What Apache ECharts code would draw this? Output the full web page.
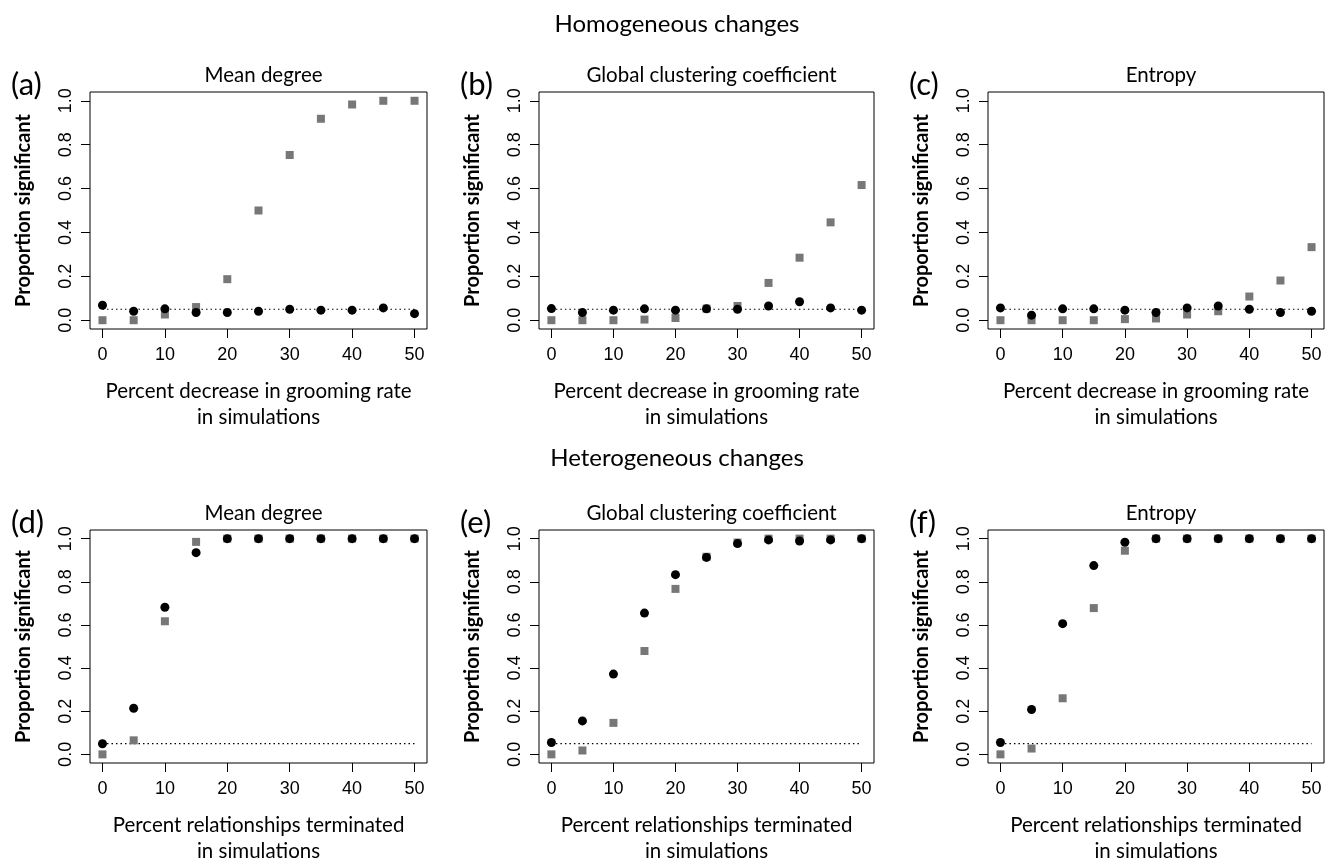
<!DOCTYPE html>
<html lang="en">
<head>
<meta charset="UTF-8">
<title>Proportion significant</title>
<style>
  html, body { margin: 0; padding: 0; background: #fff; }
  #chart { width: 1333px; height: 865px; }
</style>
</head>
<body>
<div id="chart"></div>
<script src="https://cdn.jsdelivr.net/npm/echarts@6/dist/echarts.min.js"></script>
<script>
// x positions (percent) shared by all panels
var xVals = [0, 5, 10, 15, 20, 25, 30, 35, 40, 45, 50];
var xTicks = [0, 10, 20, 30, 40, 50];
var yTicks = [0, 0.2, 0.4, 0.6, 0.8, 1.0];
var threshold = 0.05;

// homogeneous changes
var aSquares = [0.0, 0.0, 0.026, 0.06, 0.187, 0.50, 0.753, 0.918, 0.983, 1.0, 1.0];
var aCircles = [0.068, 0.041, 0.052, 0.035, 0.035, 0.041, 0.05, 0.046, 0.046, 0.056, 0.03];
var bSquares = [0.0, 0.0, 0.0, 0.003, 0.01, 0.053, 0.065, 0.17, 0.285, 0.446, 0.616];
var bCircles = [0.053, 0.035, 0.046, 0.052, 0.046, 0.052, 0.05, 0.065, 0.084, 0.056, 0.046];
var cSquares = [0.0, 0.0, 0.0, 0.0, 0.005, 0.008, 0.026, 0.041, 0.108, 0.181, 0.333];
var cCircles = [0.056, 0.023, 0.052, 0.052, 0.046, 0.035, 0.056, 0.065, 0.05, 0.035, 0.041];

// heterogeneous changes
var dSquares = [0.0, 0.065, 0.617, 0.985, 1.0, 1.0, 1.0, 1.0, 1.0, 1.0, 1.0];
var dCircles = [0.049, 0.214, 0.682, 0.935, 1.0, 1.0, 1.0, 1.0, 1.0, 1.0, 1.0];
var eSquares = [0.0, 0.018, 0.146, 0.479, 0.767, 0.916, 0.982, 1.0, 1.0, 1.0, 1.0];
var eCircles = [0.055, 0.155, 0.372, 0.655, 0.833, 0.913, 0.977, 0.994, 0.989, 0.994, 1.0];
var fSquares = [0.0, 0.027, 0.26, 0.678, 0.944, 1.0, 1.0, 1.0, 1.0, 1.0, 1.0];
var fCircles = [0.055, 0.208, 0.606, 0.875, 0.983, 1.0, 1.0, 1.0, 1.0, 1.0, 1.0];

var panelTitles = ['Mean degree', 'Global clustering coefficient', 'Entropy',
                   'Mean degree', 'Global clustering coefficient', 'Entropy'];
var panelLetters = ['(a)', '(b)', '(c)', '(d)', '(e)', '(f)'];
var xNames = ['Percent decrease in grooming rate\nin simulations',
              'Percent relationships terminated\nin simulations'];
var squares = [aSquares, bSquares, cSquares, dSquares, eSquares, fSquares];
var circles = [aCircles, bCircles, cCircles, dCircles, eCircles, fCircles];

var TXT = 'Lato, "Open Sans", sans-serif';
var NUM = '"Liberation Sans", Arial, sans-serif';

// plot box positions
var cols = [{ left: 90, width: 337 }, { left: 539, width: 335 }, { left: 988, width: 336 }];
var rows = [{ top: 92, height: 237 }, { top: 530, height: 238 }];

function pairs(vals) {
  return xVals.map(function (x, i) { return [x, vals[i]]; });
}

var grids = [], xAxes = [], yAxes = [], series = [], titles = [];

titles.push({ text: 'Homogeneous changes', left: 672, top: 7, textAlign: 'center',
  textStyle: { fontFamily: TXT, fontSize: 24, fontWeight: 'normal', color: '#000' } });
titles.push({ text: 'Heterogeneous changes', left: 672, top: 441, textAlign: 'center',
  textStyle: { fontFamily: TXT, fontSize: 24, fontWeight: 'normal', color: '#000' } });

for (var p = 0; p < 6; p++) {
  var c = cols[p % 3], r = rows[Math.floor(p / 3)];
  grids.push({ left: c.left, top: r.top, width: c.width, height: r.height,
    show: true, borderColor: '#000', borderWidth: 1, backgroundColor: 'transparent' });

  titles.push({ text: panelTitles[p], left: c.left + c.width / 2, top: r.top - 32, textAlign: 'center',
    textStyle: { fontFamily: TXT, fontSize: 20.5, fontWeight: 'normal', color: '#000' } });
  titles.push({ text: panelLetters[p], left: c.left - 84, top: r.top - 28,
    textStyle: { fontFamily: TXT, fontSize: 31, fontWeight: 'normal', color: '#000' } });

  xAxes.push({
    gridIndex: p, type: 'value', min: -2, max: 52,
    name: xNames[Math.floor(p / 3)], nameLocation: 'middle', nameGap: 49,
    nameTextStyle: { fontFamily: TXT, fontSize: 20.5, color: '#000', lineHeight: 26 },
    axisLine: { show: false, onZero: false },
    axisTick: { show: true, length: 9, customValues: xTicks, lineStyle: { color: '#000' } },
    axisLabel: { customValues: xTicks, margin: 17, fontFamily: NUM, fontSize: 18, color: '#000' },
    splitLine: { show: false }
  });
  yAxes.push({
    gridIndex: p, type: 'value', min: -0.04, max: 1.04,
    name: 'Proportion significant', nameLocation: 'middle', nameGap: 56,
    nameTextStyle: { fontFamily: TXT, fontSize: 20, fontWeight: 'bold', color: '#000' },
    axisLine: { show: false, onZero: false },
    axisTick: { show: true, length: 9, customValues: yTicks, lineStyle: { color: '#000' } },
    axisLabel: { customValues: yTicks, rotate: 90, margin: 15, fontFamily: NUM, fontSize: 18, color: '#000',
      formatter: function (v) { return v.toFixed(1); } },
    splitLine: { show: false }
  });

  series.push({
    type: 'line', xAxisIndex: p, yAxisIndex: p, symbol: 'none', silent: true,
    data: [[xTicks[0], threshold], [xTicks[xTicks.length - 1], threshold]],
    lineStyle: { color: '#000', width: 1.2, type: [1.5, 3] }, z: 1
  });
  series.push({
    type: 'scatter', xAxisIndex: p, yAxisIndex: p, symbol: 'rect', symbolSize: 8,
    data: pairs(squares[p]), itemStyle: { color: '#777777', opacity: 1 }, z: 2
  });
  series.push({
    type: 'scatter', xAxisIndex: p, yAxisIndex: p, symbol: 'circle', symbolSize: 9,
    data: pairs(circles[p]), itemStyle: { color: '#000', opacity: 1 }, z: 3
  });
}

var chart = echarts.init(document.getElementById('chart'), null, { renderer: 'canvas' });
chart.setOption({
  animation: false,
  backgroundColor: '#fff',
  title: titles,
  grid: grids,
  xAxis: xAxes,
  yAxis: yAxes,
  series: series
});
</script>
</body>
</html>
